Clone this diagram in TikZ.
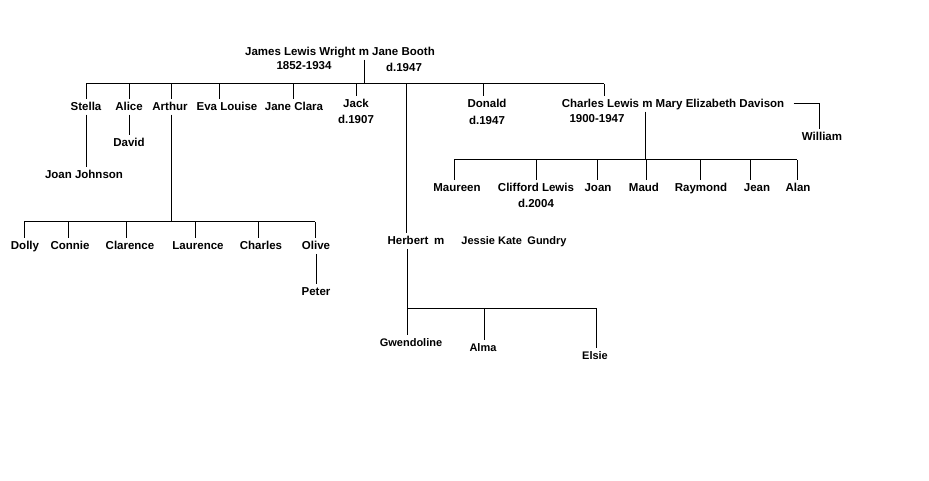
\documentclass[tikz,border=0pt]{standalone}
\usepackage{fontspec}
\setmainfont{Liberation Sans}

\begin{document}
\begin{tikzpicture}[x=1pt, y=-1pt, line width=1pt,
    person/.style={font=\fontsize{11.5}{13}\selectfont\bfseries, inner sep=2pt, text height=8.5pt, text depth=2pt},
    small/.style={person, font=\fontsize{11}{12}\selectfont\bfseries}]
        \useasboundingbox (0,0) rectangle (929,481);

        % James and Jane
        \node[person] (james) at (340,52) {James Lewis Wright m Jane Booth};
        \node[person] (jamesd) at (304,66) {1852-1934};
        \node[person] (janed) at (404,68) {d.1947};

        % Their children
        \node[person] (stella) at (86,107) {Stella};
        \node[person] (alice) at (129,107) {Alice};
        \node[person] (arthur) at (170,107) {Arthur};
        \node[person] (eva) at (227,107) {Eva Louise};
        \node[person] (janec) at (294,107) {Jane Clara};
        \node[person] (jack) at (356,104) {Jack};
        \node[person] (jackd) at (356,120) {d.1907};
        \node[person] (donald) at (487,104) {Donald};
        \node[person] (donaldd) at (487,121) {d.1947};
        \node[person] (charles) at (673,104) {Charles Lewis m Mary Elizabeth Davison};
        \node[person] (charlesd) at (597,119) {1900-1947};
        \node[person] (herbert) at (416,241) {Herbert\enspace m};
        \node[small] (jessie) at (514,241) {Jessie Kate\enspace Gundry};

        % Bar under James and Jane
        \coordinate (jw) at (364,84);
        \draw (james.south -| jw) -- (jw);
        \draw (86,84) coordinate (b1) -- (604,84) coordinate (b9);
        \coordinate (b2) at (129,84);
        \coordinate (b3) at (171,84);
        \coordinate (b4) at (219,84);
        \coordinate (b5) at (293,84);
        \coordinate (b6) at (356,84);
        \coordinate (b7) at (406,84);
        \coordinate (b8) at (483,84);
        \draw (b1) -- (b1 |- stella.north);
        \draw (b2) -- (b2 |- alice.north);
        \draw (b3) -- (b3 |- arthur.north);
        \draw (b4) -- (b4 |- eva.north);
        \draw (b5) -- (b5 |- janec.north);
        \draw (b6) -- (b6 |- jack.north);
        \draw (b7) -- (b7 |- herbert.north);
        \draw (b8) -- (b8 |- donald.north);
        \draw (b9) -- (b9 |- charles.north);

        % Stella and Alice
        \node[person] (joanj) at (84,175) {Joan Johnson};
        \node[person] (david) at (129,143) {David};
        \draw (stella.south -| b1) -- (joanj.north -| b1);
        \draw (alice.south) -- (david.north);

        % Arthur's children
        \node[person] (dolly) at (25,246) {Dolly};
        \node[person] (connie) at (70,246) {Connie};
        \node[person] (clarence) at (130,246) {Clarence};
        \node[person] (laurence) at (198,246) {Laurence};
        \node[person] (charlesb) at (261,246) {Charles};
        \node[person] (olive) at (316,246) {Olive};
        \node[person] (peter) at (316,292) {Peter};
        \coordinate (ab) at (171,222);
        \draw (arthur.south -| ab) -- (ab);
        \draw (24,222) coordinate (a1) -- (315,222) coordinate (a6);
        \coordinate (a2) at (68,222);
        \coordinate (a3) at (126,222);
        \coordinate (a4) at (195,222);
        \coordinate (a5) at (258,222);
        \draw (a1) -- (a1 |- dolly.north);
        \draw (a2) -- (a2 |- connie.north);
        \draw (a3) -- (a3 |- clarence.north);
        \draw (a4) -- (a4 |- laurence.north);
        \draw (a5) -- (a5 |- charlesb.north);
        \draw (a6) -- (a6 |- olive.north);
        \draw (olive.south) -- (peter.north);

        % Herbert's children
        \node[small] (gwen) at (411,343) {Gwendoline};
        \node[small] (alma) at (483,348) {Alma};
        \node[small] (elsie) at (595,356) {Elsie};
        \coordinate (h1) at (407,308);
        \coordinate (h2) at (484,308);
        \coordinate (h3) at (596,308);
        \draw (herbert.south -| h1) -- (h1) -- (h3);
        \draw (h1) -- (h1 |- gwen.north);
        \draw (h2) -- (h2 |- alma.north);
        \draw (h3) -- (h3 |- elsie.north);

        % Charles Lewis' children
        \node[person] (maureen) at (457,188) {Maureen};
        \node[person] (clifford) at (536,188) {Clifford Lewis};
        \node[person] (cliffordd) at (536,204) {d.2004};
        \node[person] (joan) at (598,188) {Joan};
        \node[person] (maud) at (644,188) {Maud};
        \node[person] (raymond) at (701,188) {Raymond};
        \node[person] (jean) at (757,188) {Jean};
        \node[person] (alan) at (798,188) {Alan};
        \coordinate (cb) at (645,160);
        \draw (charles.south -| cb) -- (cb);
        \draw (454,160) coordinate (c1) -- (797,160) coordinate (c7);
        \coordinate (c2) at (536,160);
        \coordinate (c3) at (597,160);
        \coordinate (c4) at (646,160);
        \coordinate (c5) at (700,160);
        \coordinate (c6) at (750,160);
        \draw (c1) -- (c1 |- maureen.north);
        \draw (c2) -- (c2 |- clifford.north);
        \draw (c3) -- (c3 |- joan.north);
        \draw (c4) -- (c4 |- maud.north);
        \draw (c5) -- (c5 |- raymond.north);
        \draw (c6) -- (c6 |- jean.north);
        \draw (c7) -- (c7 |- alan.north);

        % William
        \node[person] (william) at (822,137) {William};
        \draw ([xshift=7pt]charles.east) -| (819,0 |- william.north);
\end{tikzpicture}
\end{document}
